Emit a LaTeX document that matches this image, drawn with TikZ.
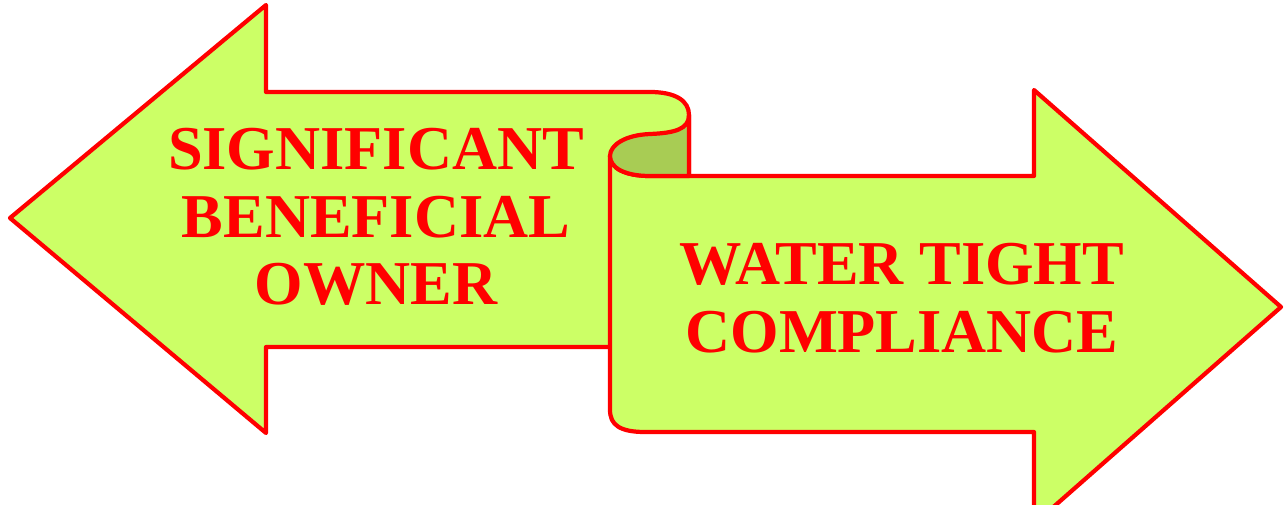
\documentclass[tikz,border=0pt]{standalone}
\usepackage{fontspec}
\setmainfont{Liberation Serif}
\definecolor{lime}{RGB}{204,255,102}
\definecolor{curl}{RGB}{168,204,84}
\begin{document}
\begin{tikzpicture}[x=0.02cm,y=-0.02cm]
  \tikzset{banner/.style={draw=red,line width=2.4pt,line join=round,fill=lime},
    bannertext/.style={text=red,font=\fontsize{35.5}{38.5}\selectfont\bfseries,align=center}}
  \clip (0,0) rectangle (1284,504);
  \coordinate (LTip) at (10,218);
  \coordinate (RTip) at (1281,307);
  % left arrow, rolled at its top right
  \draw[banner] (LTip) -- (266,5) -- (266,92) -- (650,92)
    .. controls (676,92) and (689,101) .. (689,115) -- (689,347)
    -- (266,347) -- (266,433) -- cycle;
  % right arrow
  \draw[banner] (650,176) .. controls (625,176) and (610,168) .. (610,156)
    -- (610,410) .. controls (610,425) and (620,432) .. (645,432)
    -- (1034,432) -- (1034,524) -- (RTip) -- (1034,90) -- (1034,176) -- cycle;
  % inside of the curl
  \draw[banner,fill=curl] (689,115) .. controls (689,129) and (675,133) .. (650,134)
    .. controls (625,135) and (610,145) .. (610,156)
    .. controls (610,168) and (625,176) .. (650,176) -- (689,176) -- cycle;
  \node[bannertext] (owner) at (376,217) {SIGNIFICANT\\BENEFICIAL\\OWNER};
  \node[bannertext] (comply) at (902,298) {WATER TIGHT\\COMPLIANCE};
\end{tikzpicture}
\end{document}
